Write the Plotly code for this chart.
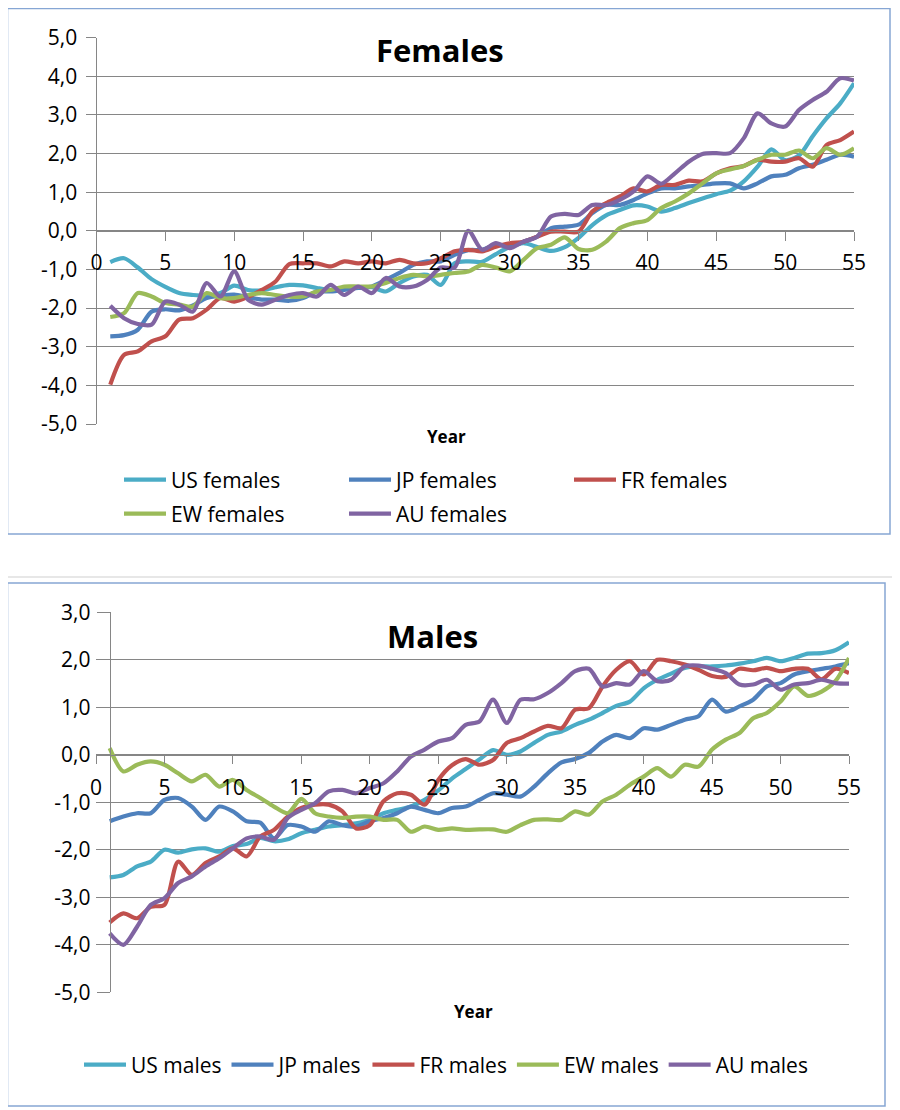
import plotly.graph_objects as go

# ---------------- data ----------------
years = list(range(1, 56))

x_ticks = list(range(0, 56, 5))
x_tick_labels = [str(v) for v in x_ticks]

y_ticks_f = [-5, -4, -3, -2, -1, 0, 1, 2, 3, 4, 5]
y_tick_labels_f = ["-5,0", "-4,0", "-3,0", "-2,0", "-1,0", "0,0", "1,0", "2,0", "3,0", "4,0", "5,0"]
y_ticks_m = [-5, -4, -3, -2, -1, 0, 1, 2, 3]
y_tick_labels_m = ["-5,0", "-4,0", "-3,0", "-2,0", "-1,0", "0,0", "1,0", "2,0", "3,0"]

us_females = [-0.81, -0.71, -0.95, -1.25, -1.45, -1.61, -1.66, -1.68, -1.61, -1.42,
              -1.53, -1.54, -1.46, -1.40, -1.41, -1.48, -1.53, -1.48, -1.47, -1.46,
              -1.57, -1.35, -1.18, -1.14, -1.40, -0.84, -0.79, -0.80, -0.60, -0.42,
              -0.32, -0.42, -0.52, -0.42, -0.18, 0.15, 0.40, 0.54, 0.66, 0.63,
              0.50, 0.59, 0.72, 0.84, 0.95, 1.04, 1.28, 1.66, 2.11, 1.83,
              1.95, 2.45, 2.91, 3.30, 3.82]
jp_females = [-2.73, -2.70, -2.56, -2.09, -2.03, -2.06, -1.93, -1.74, -1.68, -1.65,
              -1.72, -1.78, -1.78, -1.81, -1.74, -1.57, -1.57, -1.53, -1.48, -1.44,
              -1.27, -1.09, -0.88, -0.79, -0.79, -0.62, -0.50, -0.49, -0.36, -0.41,
              -0.28, -0.15, 0.07, 0.11, 0.16, 0.46, 0.67, 0.67, 0.80, 0.97,
              1.10, 1.10, 1.15, 1.19, 1.23, 1.23, 1.10, 1.23, 1.41, 1.45,
              1.62, 1.71, 1.84, 1.97, 1.92]
fr_females = [-3.98, -3.21, -3.12, -2.86, -2.73, -2.30, -2.26, -2.04, -1.74, -1.83,
              -1.71, -1.53, -1.31, -0.86, -0.84, -0.84, -0.92, -0.79, -0.84, -0.79,
              -0.84, -0.75, -0.84, -0.84, -0.71, -0.53, -0.49, -0.53, -0.41, -0.32,
              -0.28, -0.15, -0.02, -0.02, -0.02, 0.50, 0.72, 0.89, 1.10, 1.02,
              1.19, 1.19, 1.30, 1.28, 1.49, 1.62, 1.68, 1.84, 1.79, 1.79,
              1.88, 1.66, 2.22, 2.35, 2.57]
ew_females = [-2.23, -2.13, -1.61, -1.70, -1.87, -1.91, -1.96, -1.61, -1.74, -1.74,
              -1.66, -1.61, -1.66, -1.70, -1.70, -1.57, -1.53, -1.44, -1.44, -1.44,
              -1.35, -1.22, -1.14, -1.18, -1.14, -1.09, -1.05, -0.88, -0.95, -1.05,
              -0.75, -0.45, -0.36, -0.17, -0.47, -0.49, -0.28, 0.07, 0.20, 0.28,
              0.59, 0.76, 0.97, 1.23, 1.49, 1.59, 1.68, 1.84, 1.97, 1.97,
              2.08, 1.88, 2.14, 1.97, 2.14]
au_females = [-1.94, -2.26, -2.41, -2.43, -1.83, -1.91, -2.09, -1.35, -1.70, -1.05,
              -1.78, -1.91, -1.78, -1.66, -1.61, -1.70, -1.40, -1.66, -1.44, -1.61,
              -1.22, -1.44, -1.44, -1.27, -0.95, -0.95, 0.00, -0.49, -0.32, -0.45,
              -0.28, -0.15, 0.37, 0.44, 0.41, 0.67, 0.67, 0.80, 1.02, 1.41,
              1.22, 1.49, 1.79, 1.99, 2.01, 2.01, 2.40, 3.04, 2.78, 2.70,
              3.13, 3.39, 3.60, 3.95, 3.89]

us_males = [-2.58, -2.53, -2.35, -2.25, -2.00, -2.06, -1.99, -1.97, -2.04, -1.92,
            -1.88, -1.75, -1.82, -1.78, -1.65, -1.58, -1.51, -1.48, -1.44, -1.37,
            -1.23, -1.16, -1.09, -0.95, -0.75, -0.50, -0.30, -0.10, 0.10, 0.00,
            0.07, 0.25, 0.42, 0.49, 0.63, 0.74, 0.88, 1.03, 1.12, 1.40,
            1.58, 1.71, 1.83, 1.86, 1.86, 1.88, 1.92, 1.97, 2.04, 1.97,
            2.04, 2.13, 2.14, 2.20, 2.37]
jp_males = [-1.40, -1.30, -1.23, -1.23, -0.95, -0.91, -1.09, -1.37, -1.09, -1.19,
            -1.40, -1.43, -1.76, -1.48, -1.51, -1.62, -1.40, -1.48, -1.51, -1.40,
            -1.33, -1.23, -1.09, -1.16, -1.23, -1.12, -1.09, -0.95, -0.81, -0.84,
            -0.88, -0.67, -0.39, -0.16, -0.09, 0.04, 0.28, 0.42, 0.35, 0.56,
            0.53, 0.63, 0.74, 0.81, 1.16, 0.91, 1.02, 1.16, 1.44, 1.51,
            1.69, 1.76, 1.81, 1.86, 1.93]
fr_males = [-3.53, -3.34, -3.44, -3.20, -3.16, -2.25, -2.53, -2.28, -2.14, -1.97,
            -2.14, -1.72, -1.58, -1.30, -1.12, -1.05, -1.05, -1.19, -1.55, -1.48,
            -0.98, -0.81, -0.84, -1.05, -0.53, -0.22, -0.09, -0.21, -0.11, 0.25,
            0.35, 0.49, 0.61, 0.56, 0.95, 0.98, 1.44, 1.79, 1.97, 1.69,
            2.00, 1.97, 1.90, 1.79, 1.66, 1.64, 1.81, 1.78, 1.83, 1.76,
            1.81, 1.81, 1.59, 1.81, 1.72]
ew_males = [0.14, -0.35, -0.21, -0.14, -0.21, -0.39, -0.56, -0.42, -0.67, -0.53,
            -0.74, -0.91, -1.09, -1.23, -0.93, -1.23, -1.30, -1.33, -1.30, -1.30,
            -1.37, -1.37, -1.62, -1.51, -1.58, -1.55, -1.58, -1.57, -1.57, -1.62,
            -1.48, -1.37, -1.36, -1.37, -1.19, -1.26, -0.98, -0.84, -0.63, -0.46,
            -0.28, -0.46, -0.21, -0.25, 0.11, 0.32, 0.46, 0.77, 0.88, 1.12,
            1.44, 1.24, 1.33, 1.55, 2.04]
au_males = [-3.76, -4.00, -3.62, -3.16, -3.02, -2.70, -2.56, -2.35, -2.18, -1.97,
            -1.76, -1.72, -1.79, -1.33, -1.16, -1.02, -0.77, -0.74, -0.81, -0.70,
            -0.60, -0.35, -0.04, 0.11, 0.28, 0.35, 0.63, 0.70, 1.16, 0.67,
            1.16, 1.17, 1.30, 1.51, 1.76, 1.81, 1.44, 1.51, 1.48, 1.76,
            1.55, 1.58, 1.86, 1.88, 1.81, 1.72, 1.48, 1.48, 1.58, 1.37,
            1.48, 1.51, 1.58, 1.51, 1.50]

female_names = ["US females", "JP females", "FR females", "EW females", "AU females"]
male_names = ["US males", "JP males", "FR males", "EW males", "AU males"]
colors = ["#4BACC6", "#4F81BD", "#C0504D", "#9BBB59", "#8064A2"]

# ---------------- layout geometry ----------------
W, H = 900, 1110
OFF = 8  # page body margin offset of the figure in the browser window

def fx(px):
    return (px - OFF) / W
def fy(py):
    return 1 - (py - OFF) / H

FONT = "Open Sans"
GRID = "#868686"

xd_f = [fx(96.5), fx(854)]
yd_f = [fy(424), fy(37.7)]
xd_m = [fx(96), fx(849)]
yd_m = [fy(992.3), fy(612.3)]

yr_f = [-5, 5]
yr_m = [-5, 3]
xr = [0, 55]

# position of x axes at y = 0 and male y axis at x = 1 (from axis scales)
xpos_f = yd_f[0] + (0 - yr_f[0]) / (yr_f[1] - yr_f[0]) * (yd_f[1] - yd_f[0])
xpos_m = yd_m[0] + (0 - yr_m[0]) / (yr_m[1] - yr_m[0]) * (yd_m[1] - yd_m[0])
ypos_m = xd_m[0] + (1 - xr[0]) / (xr[1] - xr[0]) * (xd_m[1] - xd_m[0])

fig = go.Figure()

female_series = [us_females, jp_females, fr_females, ew_females, au_females]
male_series = [us_males, jp_males, fr_males, ew_males, au_males]
female_legends = ["legend", "legend", "legend", "legend2", "legend2"]

for name, vals, col, lg in zip(female_names, female_series, colors, female_legends):
    fig.add_trace(go.Scatter(x=years, y=vals, name=name, mode="lines",
                             line=dict(color=col, width=4.2, shape="spline", smoothing=0.8),
                             xaxis="x", yaxis="y", legend=lg))
for name, vals, col in zip(male_names, male_series, colors):
    fig.add_trace(go.Scatter(x=years, y=vals, name=name, mode="lines",
                             line=dict(color=col, width=4.2, shape="spline", smoothing=0.8),
                             xaxis="x2", yaxis="y2", legend="legend3"))

tickfont = dict(family=FONT, size=21, color="#000000")

xcommon = dict(range=xr, tickvals=x_ticks, ticktext=x_tick_labels, showgrid=False,
               zeroline=False, showline=True, linecolor=GRID, linewidth=1,
               ticks="outside", tickcolor=GRID, tickfont=tickfont, anchor="free")

legfont = dict(family=FONT, size=21, color="#000000")

fig.update_layout(
    width=W, height=H,
    margin=dict(l=0, r=0, t=0, b=0, pad=0, autoexpand=False),
    paper_bgcolor="white", plot_bgcolor="white",
    font=dict(family=FONT, color="#000000"),
    xaxis=dict(domain=xd_f, position=xpos_f, ticklen=9, ticklabelstandoff=4, **xcommon),
    yaxis=dict(domain=yd_f, range=yr_f, anchor="x", tickvals=y_ticks_f, ticktext=y_tick_labels_f,
               showgrid=True, gridcolor=GRID, gridwidth=1, zeroline=False,
               showline=True, linecolor=GRID, linewidth=1, ticks="outside", ticklen=10,
               tickcolor=GRID, tickfont=tickfont, ticklabelstandoff=4),
    xaxis2=dict(domain=xd_m, position=xpos_m, ticklen=8, ticklabelstandoff=6, **xcommon),
    yaxis2=dict(domain=yd_m, range=yr_m, anchor="free", position=ypos_m,
                tickvals=y_ticks_m, ticktext=y_tick_labels_m,
                showgrid=True, gridcolor=GRID, gridwidth=1, zeroline=False,
                showline=True, linecolor=GRID, linewidth=1, ticks="outside", ticklen=13,
                tickcolor=GRID, tickfont=tickfont, ticklabelstandoff=2),
    legend=dict(orientation="h", x=fx(119), y=fy(480), xanchor="left", yanchor="middle",
                font=legfont, itemwidth=42, entrywidth=168, entrywidthmode="pixels",
                bgcolor="rgba(0,0,0,0)"),
    legend2=dict(orientation="h", x=fx(119), y=fy(514), xanchor="left", yanchor="middle",
                 font=legfont, itemwidth=42, entrywidth=168, entrywidthmode="pixels",
                 bgcolor="rgba(0,0,0,0)"),
    legend3=dict(orientation="h", x=fx(79), y=fy(1065), xanchor="left", yanchor="middle",
                 font=legfont, itemwidth=42, bgcolor="rgba(0,0,0,0)"),
    showlegend=True,
)

annotations = [
    dict(text="<b>Females</b>", x=fx(440), y=fy(50), font=dict(family=FONT, size=31, color="#000000")),
    dict(text="<b>Males</b>", x=fx(432), y=fy(636), font=dict(family=FONT, size=31, color="#000000")),
    dict(text="<b>Year</b>", x=fx(446), y=fy(436), font=dict(family=FONT, size=17, color="#000000")),
    dict(text="<b>Year</b>", x=fx(473), y=fy(1011), font=dict(family=FONT, size=17, color="#000000")),
]
for a in annotations:
    a.update(xref="paper", yref="paper", showarrow=False, xanchor="center", yanchor="middle")
fig.update_layout(annotations=annotations)

BOX = "#86A6D4"
shapes = [
    dict(type="rect", x0=fx(7.5), x1=fx(890), y0=fy(534), y1=fy(8.5), line=dict(color=BOX, width=1.5)),
    dict(type="line", x0=0, x1=fx(893), y0=fy(577), y1=fy(577), line=dict(color="#CFCFCF", width=1)),
    dict(type="line", x0=fx(893), x1=fx(893), y0=fy(577), y1=fy(1110), line=dict(color="#CFCFCF", width=1)),
    dict(type="rect", x0=fx(7.5), x1=fx(885), y0=fy(1106), y1=fy(583), line=dict(color=BOX, width=1.5)),
]
for s in shapes:
    s.update(xref="paper", yref="paper", layer="below")
fig.update_layout(shapes=shapes)

fig.write_html("out.html")
